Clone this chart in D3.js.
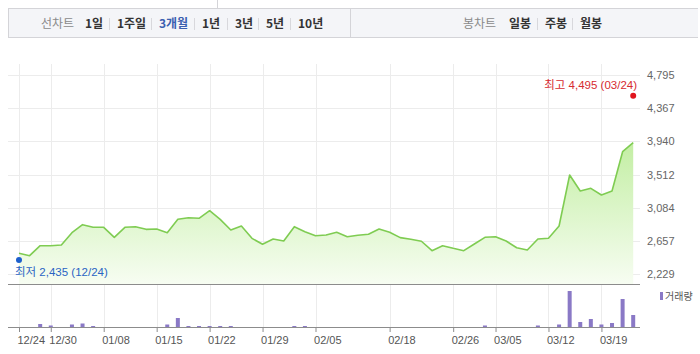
<!DOCTYPE html>
<html lang="ko">
<head>
<meta charset="UTF-8">
<title>3개월 차트</title>
<script src="https://d3js.org/d3.v7.min.js"></script>
<style>
  html, body { margin: 0; padding: 0; background: #fff; }
  svg { display: block; }
  text { font-family: "Liberation Sans", "Noto Sans CJK KR", sans-serif; }
  .nav text { font-family: "Noto Sans CJK KR", sans-serif; font-size: 12px; }
</style>
</head>
<body>
<script>
// ---- data ----
const dates = ["12/24","12/26","12/27","12/30","01/02","01/03","01/04","01/07","01/08","01/09",
               "01/10","01/11","01/14","01/15","01/16","01/17","01/18","01/21","01/22","01/23",
               "01/24","01/25","01/28","01/29","01/30","01/31","02/01","02/04","02/05","02/06",
               "02/07","02/08","02/11","02/12","02/15","02/18","02/19","02/20","02/21","02/22",
               "02/25","02/26","02/27","02/28","03/04","03/05","03/06","03/07","03/08","03/11",
               "03/12","03/13","03/14","03/15","03/18","03/19","03/20","03/21","03/24"];
const closes = [2496,2465,2594,2594,2603,2762,2865,2831,2831,2702,
                2831,2839,2805,2809,2762,2934,2955,2947,3045,2934,
                2796,2848,2689,2612,2680,2654,2839,2775,2723,2732,
                2767,2710,2729,2741,2809,2767,2698,2677,2651,2530,
                2594,2560,2530,2616,2702,2710,2654,2568,2539,2680,
                2689,2848,3506,3299,3334,3248,3299,3806,3922];
const volumes = [0,0,300,150,0,250,350,100,0,0,
                 0,0,0,0,250,900,100,100,100,100,
                 100,0,0,0,0,0,100,100,0,0,
                 0,0,0,0,0,0,0,0,0,0,
                 0,0,0,0,150,0,0,0,0,150,
                 0,250,3600,500,800,250,400,2800,1200];
const xTickLabels = ["12/24","12/30","01/08","01/15","01/22","01/29","02/05","02/18","02/26","03/05","03/12","03/19"];
const yTickLabels = ["2,229","2,657","3,084","3,512","3,940","4,367","4,795"];
const lowPoint = { date: "12/24", value: 2435 };
const highPoint = { date: "03/24", value: 4495 };
const lineNav = ["1일","1주일","3개월","1년","3년","5년","10년"];
const candleNav = ["일봉","주봉","월봉"];

// ---- layout ----
const W = 700, H = 354;
const svg = d3.select("body").append("svg").attr("width", W).attr("height", H);

// nav bar
const nav = svg.append("g").attr("class", "nav");
nav.append("rect").attr("x", 8).attr("y", 8).attr("width", 690).attr("height", 30).attr("fill", "#f4f5f8");
nav.append("line").attr("x1", 8).attr("x2", 698).attr("y1", 8.5).attr("y2", 8.5).attr("stroke", "#d4d4d8");
nav.append("line").attr("x1", 8).attr("x2", 698).attr("y1", 37.5).attr("y2", 37.5).attr("stroke", "#d4d4d8");
nav.append("line").attr("x1", 8.5).attr("x2", 8.5).attr("y1", 8).attr("y2", 38).attr("stroke", "#d4d4d8");
nav.append("line").attr("x1", 350.5).attr("x2", 350.5).attr("y1", 8).attr("y2", 38).attr("stroke", "#d4d4d8");
svg.append("line").attr("x1", 217.5).attr("x2", 217.5).attr("y1", 0).attr("y2", 8).attr("stroke", "#d4d4d8");

function navGroup(title, titleX, items, starts, activeIdx) {
  nav.append("text").attr("x", titleX).attr("y", 28).attr("fill", "#8a8a8a").text(title);
  items.forEach((t, i) => {
    nav.append("text").attr("x", starts[i]).attr("y", 28)
      .attr("font-weight", "bold")
      .attr("fill", i === activeIdx ? "#3a5fb0" : "#333")
      .text(t);
    if (i > 0) {
      nav.append("line").attr("x1", starts[i] - 7.5).attr("x2", starts[i] - 7.5)
        .attr("y1", 18).attr("y2", 30).attr("stroke", "#d8d8dc");
    }
  });
}
navGroup("선차트", 41, lineNav, [85, 117, 159, 202, 235, 266, 298], 2);
navGroup("봉차트", 463, candleNav, [509, 545, 580], -1);

// scales
const x = d3.scaleLinear().domain([0, dates.length - 1]).range([19, 633.2]);
const yVals = yTickLabels.map(s => +s.replace(",", ""));
const y = d3.scaleLinear().domain([yVals[0], yVals[yVals.length - 1]]).range([274, 75]);
const yVol = d3.scaleLinear().domain([0, 4000]).range([327, 287]);

const left = 8, right = 640, panelBottom = 284, volBase = 327;
const tickIdx = xTickLabels.map(l => dates.indexOf(l));

// grid
const grid = svg.append("g");
grid.selectAll(".hg").data(yVals).join("line")
  .attr("x1", left).attr("x2", right)
  .attr("y1", d => Math.round(y(d)) + 0.5).attr("y2", d => Math.round(y(d)) + 0.5)
  .attr("stroke", "#ececec");
grid.selectAll(".vg").data(tickIdx).join("line")
  .attr("x1", d => Math.round(x(d)) + 0.5).attr("x2", d => Math.round(x(d)) + 0.5)
  .attr("y1", 64).attr("y2", volBase)
  .attr("stroke", "#ececec");

// area + line
const defs = svg.append("defs");
const grad = defs.append("linearGradient").attr("id", "fillGrad")
  .attr("gradientUnits", "userSpaceOnUse").attr("x1", 0).attr("x2", 0).attr("y1", 140).attr("y2", panelBottom);
grad.append("stop").attr("offset", 0).attr("stop-color", "#c2eea2");
grad.append("stop").attr("offset", 1).attr("stop-color", "#f7fdf2");

const area = d3.area().x((d, i) => x(i)).y0(panelBottom).y1(d => y(d));
svg.append("path").datum(closes).attr("d", area).attr("fill", "url(#fillGrad)");
const line = d3.line().x((d, i) => x(i)).y(d => y(d));
svg.append("path").datum(closes).attr("d", line)
  .attr("fill", "none").attr("stroke", "#7fcc52").attr("stroke-width", 1.6).attr("stroke-linejoin", "round");

// y axis labels
const yAxis = d3.axisRight(y).tickValues(yVals).tickSize(0).tickPadding(0)
  .tickFormat((d, i) => yTickLabels[i]);
const yg = svg.append("g").attr("transform", "translate(647,0)").call(yAxis);
yg.select(".domain").remove();
yg.selectAll("text").attr("font-size", 11).attr("fill", "#666")
  .attr("font-family", "\"Liberation Sans\", sans-serif");

// panel separators
svg.append("line").attr("x1", left).attr("x2", right).attr("y1", panelBottom + 0.5).attr("y2", panelBottom + 0.5)
  .attr("stroke", "#8c8c8c");

// volume bars
svg.append("g").selectAll("rect").data(volumes).join("rect")
  .attr("x", (d, i) => x(i) - 2).attr("width", 4)
  .attr("y", d => yVol(d)).attr("height", d => volBase - yVol(d))
  .attr("fill", "#8a79c6");

// x axis
const xAxis = d3.axisBottom(x).tickValues(tickIdx).tickSize(5).tickSizeOuter(0)
  .tickFormat(d => dates[d]);
const xg = svg.append("g").attr("transform", `translate(0,${volBase})`).call(xAxis);
xg.select(".domain").attr("d", `M${left},0.5H${right}`).attr("stroke", "#8c8c8c");
xg.selectAll(".tick line").attr("stroke", "#8c8c8c");
xg.selectAll(".tick text").attr("font-size", 11).attr("fill", "#555")
  .attr("text-anchor", "start").attr("dx", "-2").attr("y", 9)
  .attr("font-family", "\"Liberation Sans\", sans-serif");

// volume legend
svg.append("rect").attr("x", 660).attr("y", 292).attr("width", 3).attr("height", 8).attr("fill", "#8a79c6");
svg.append("text").attr("x", 665).attr("y", 300).attr("font-size", 10).attr("fill", "#555")
  .attr("font-family", "\"Noto Sans CJK KR\", sans-serif").text("거래량");

// min / max markers
const fmt = d3.format(",");
const lowI = dates.indexOf(lowPoint.date), highI = dates.indexOf(highPoint.date);
svg.append("circle").attr("cx", x(lowI)).attr("cy", y(lowPoint.value) + 2).attr("r", 3).attr("fill", "#1d5fcc");
svg.append("text").attr("x", 15).attr("y", 276).attr("font-size", 11.5).attr("fill", "#2a64c4")
  .text(`최저 ${fmt(lowPoint.value)} (${lowPoint.date})`);
svg.append("circle").attr("cx", x(highI)).attr("cy", y(highPoint.value) - 2.5).attr("r", 3).attr("fill", "#e0141e");
svg.append("text").attr("x", 637).attr("y", 89).attr("text-anchor", "end").attr("font-size", 11.5).attr("fill", "#d62a30")
  .text(`최고 ${fmt(highPoint.value)} (${highPoint.date})`);
</script>
</body>
</html>
